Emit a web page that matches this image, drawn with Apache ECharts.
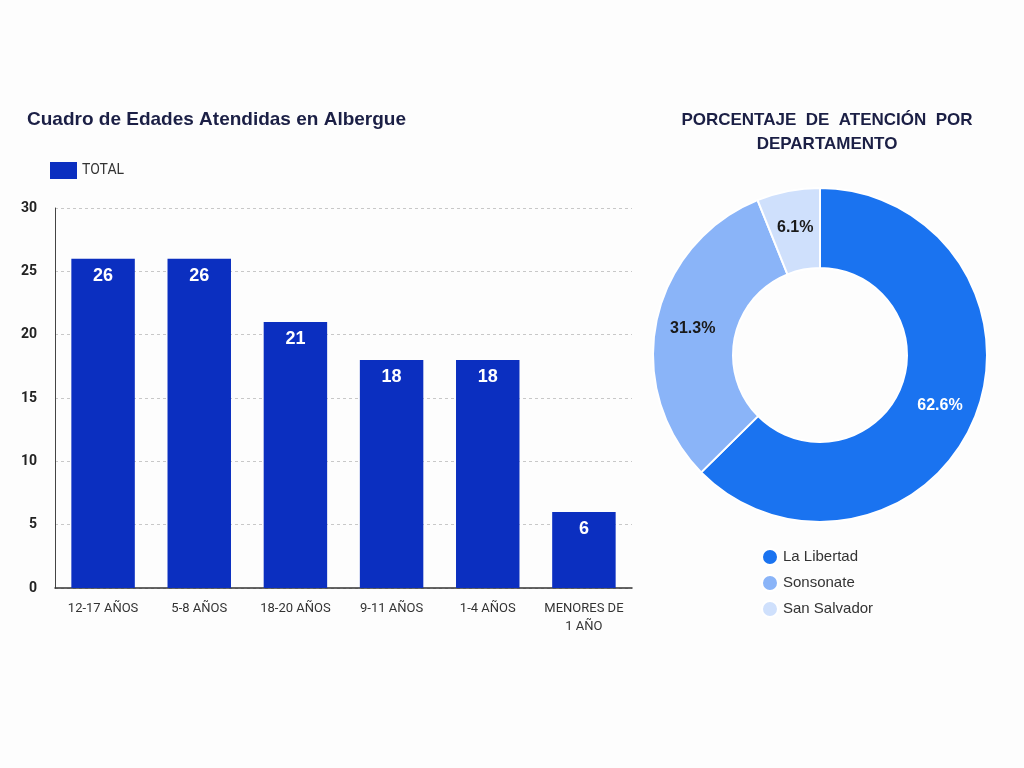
<!DOCTYPE html>
<html><head><meta charset="utf-8">
<script src="https://cdn.jsdelivr.net/npm/echarts@6/dist/echarts.min.js"></script>
<style>html,body{margin:0;padding:0;background:#fdfdfd}#c{width:1024px;height:768px}</style>
</head><body><div id="c"></div>
<script>
const categories = ['12-17 AÑOS','5-8 AÑOS','18-20 AÑOS','9-11 AÑOS','1-4 AÑOS','MENORES DE\n1 AÑO'];
const totals = [26,26,21,18,18,6];
const yTicks = [0,5,10,15,20,25,30];
const departments = ['La Libertad','Sonsonate','San Salvador'];
const percents = [62.6,31.3,6.1];
const pieColors = ['#1a73f0','#8ab4f8','#cfe0fc'];

const chart = echarts.init(document.getElementById('c'));
const cond = 'Roboto, sans-serif';
const arial = '"Liberation Sans", Arial, sans-serif';
chart.setOption({
  backgroundColor:'#fdfdfd',
  animation:false,
  title:[
    {text:'Cuadro de Edades Atendidas en Albergue',left:22,top:105,textStyle:{fontFamily:arial,fontSize:19,fontWeight:'bold',color:'#1b1f45'}},
    {text:'PORCENTAJE  DE  ATENCIÓN  POR\nDEPARTAMENTO',left:822,top:103,textAlign:'center',textStyle:{fontFamily:arial,fontSize:17,fontWeight:'bold',color:'#1b1f45',lineHeight:24}}
  ],
  legend:[
    {data:['TOTAL'],left:45,top:157,itemWidth:27,itemHeight:17,icon:'rect',textStyle:{fontFamily:cond,fontSize:14,color:'#333'}},
    {data:departments,orient:'vertical',left:756,top:543,itemWidth:16,itemHeight:16,itemGap:8,icon:'circle',textStyle:{fontFamily:arial,fontSize:15,color:'#333'}}
  ],
  grid:{left:55,right:392,top:208,bottom:180,containLabel:false},
  xAxis:{type:'category',data:categories,axisTick:{show:false},
    axisLine:{lineStyle:{color:'#333',width:1.5}},
    axisLabel:{interval:0,fontFamily:cond,fontSize:13,color:'#333',margin:12,lineHeight:18}},
  yAxis:{type:'value',min:0,max:30,interval:5,
    axisLine:{show:true,lineStyle:{color:'#444'}},
    axisLabel:{fontFamily:cond,fontSize:14,fontWeight:'bold',color:'#222',margin:18},
    splitLine:{lineStyle:{type:[3,3],color:'#c8c8c8'}}},
  series:[
    {name:'TOTAL',type:'bar',data:totals,barCategoryGap:'34%',itemStyle:{color:'#0b2fc0'},
      label:{show:true,position:'insideTop',distance:8,color:'#fff',fontFamily:arial,fontWeight:'bold',fontSize:18}},
    {name:'Departamento',type:'pie',center:[820,355],radius:[87,167],startAngle:90,clockwise:true,
      data:departments.map((d,i)=>({name:d,value:percents[i],itemStyle:{color:pieColors[i]},
        label:{color:i===0?'#fff':'#1a1a1a'}})),
      itemStyle:{borderColor:'#fff',borderWidth:2},
      label:{show:true,position:'inside',formatter:p=>p.value.toFixed(1)+'%',fontFamily:arial,fontWeight:'bold',fontSize:16},
      labelLine:{show:false}}
  ]
});
</script></body></html>
